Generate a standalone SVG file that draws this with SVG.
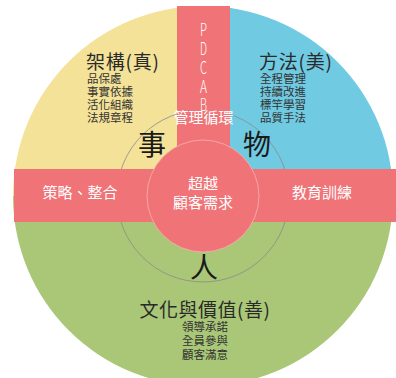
<svg xmlns="http://www.w3.org/2000/svg" width="396" height="378" viewBox="0 0 396 378">
<style>
text{font-family:"Noto Sans CJK TC","Noto Sans CJK SC",sans-serif}
.t{fill:#2a2a2a;font-size:19px}
.s{fill:#333;font-size:11.5px}
.big{fill:#1a1a1a;font-size:28px}
.w{fill:#fff;font-size:15px}
.wl{fill:#fff;font-size:17px;font-weight:300}
</style>
<defs>
<clipPath id="cp"><rect x="0" y="0" width="396" height="378"/></clipPath>
</defs>
<rect width="396" height="378" fill="#fff"/>
<g id="quadrants" clip-path="url(#cp)">
<path d="M203,196 L13,196 A190,190 0 0 1 203,6 Z" fill="#F3E297"/>
<path d="M203,196 L203,6 A190,190 0 0 1 393,196 Z" fill="#6FCAE2"/>
<path d="M13,196 A190,190 0 0 0 393,196 Z" fill="#A9C777"/>
</g>
<g id="connectors">
<circle cx="203" cy="196" r="86" fill="none" stroke="#8a8a8a" stroke-width="0.8"/>
</g>
<g id="band-v"><rect x="177" y="6" width="53" height="150" fill="#F07377"/></g>
<g id="band-h"><rect x="14" y="169" width="382" height="53" fill="#F07377"/></g>
<g id="center">
<circle cx="203" cy="196" r="56" fill="#F07377" stroke="#F7B3B3" stroke-width="0.8"/>
<text class="w" x="203" font-size="15.5" text-anchor="middle"><tspan x="203" y="189">超越</tspan><tspan x="203" y="208">顧客需求</tspan></text>
</g>
<g id="pdcab">
<text class="wl" text-anchor="middle"><tspan x="203.5" y="36" textLength="7" lengthAdjust="spacingAndGlyphs">P</tspan><tspan x="203.5" y="55" textLength="7" lengthAdjust="spacingAndGlyphs">D</tspan><tspan x="203.5" y="74" textLength="7" lengthAdjust="spacingAndGlyphs">C</tspan><tspan x="203.5" y="93" textLength="7" lengthAdjust="spacingAndGlyphs">A</tspan><tspan x="203.5" y="111" textLength="7" lengthAdjust="spacingAndGlyphs">B</tspan></text>
<text class="w" x="203.5" y="123" text-anchor="middle" font-size="11.5">管理循環</text>
</g>
<g id="jiagou">
<text class="t" x="86" y="69" letter-spacing="0.8">架構(真)</text>
<text class="s"><tspan x="87" y="83">品保處</tspan><tspan x="87" y="96">事實依據</tspan><tspan x="87" y="109">活化組織</tspan><tspan x="87" y="122">法規章程</tspan></text>
<text class="big" x="138" y="155">事</text>
</g>
<g id="fangfa">
<text class="t" x="259" y="69" letter-spacing="0.8">方法(美)</text>
<text class="s"><tspan x="260" y="83">全程管理</tspan><tspan x="260" y="96">持續改進</tspan><tspan x="260" y="109">標竿學習</tspan><tspan x="260" y="122">品質手法</tspan></text>
<text class="big" x="243" y="155">物</text>
</g>
<g id="celue"><text class="w" x="80" y="198" text-anchor="middle">策略、整合</text></g>
<g id="jiaoyu"><text class="w" x="322" y="198" text-anchor="middle">教育訓練</text></g>
<g id="wenhua">
<text class="big" x="204" y="278" text-anchor="middle">人</text>
<text class="t" x="205" y="317" text-anchor="middle" font-size="20" letter-spacing="0.5">文化與價值(善)</text>
<text class="s" text-anchor="middle"><tspan x="205" y="331">領導承諾</tspan><tspan x="205" y="345">全員參與</tspan><tspan x="205" y="359">顧客滿意</tspan></text>
</g>
</svg>
